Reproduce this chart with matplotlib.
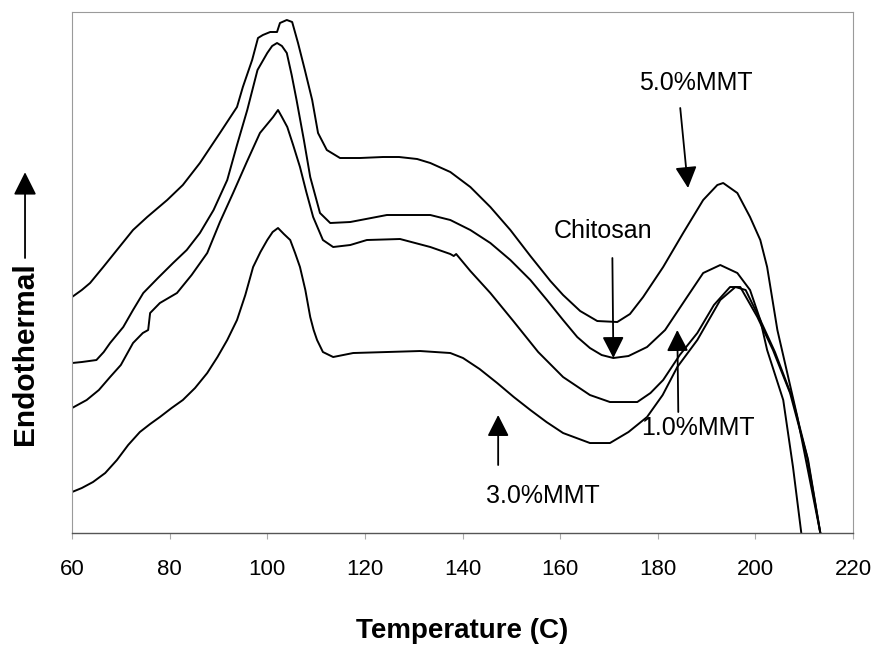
import matplotlib
matplotlib.use("Agg")
import matplotlib as mpl
import matplotlib.pyplot as plt
from matplotlib.patches import FancyArrowPatch

mpl.rcParams.update({
    "font.family": "Liberation Sans", "font.size": 16,
})

# DSC traces (temperature in C, heat flow in arbitrary
# units, endothermic up)
T_MMT5 = [60, 62, 63.7, 66.4, 69.2, 72.5, 75.4, 79.5, 82.7, 86.2, 90.3, 93.8,
          95, 96.9, 98.1, 99.1, 100.6, 102, 102.6, 104, 105.1, 106.3, 107.7,
          109.2, 110.4, 112.2, 114.9, 119, 123.7, 127, 130.7, 133.4, 137.5,
          141.6, 145.7, 149.8, 153.9, 158, 160.6, 164.1, 167.6, 171.7, 174.3,
          177, 181.1, 185.2, 189.3, 192.2, 193.4, 196.3, 198.9, 201, 202.4,
          204.5, 208.6, 213.3]
Y_MMT5 = [236, 243, 250, 266, 283, 303, 316, 333, 348, 370, 400, 426,
          446, 473, 495, 498, 501, 501, 510, 513, 511, 490, 463,
          433, 400, 383, 375, 375, 376, 376, 374, 370, 361,
          346, 326, 303, 277, 252, 238, 222, 212, 211, 219,
          236, 266, 300, 333, 348, 350, 340, 316, 293, 266,
          203, 116, 0]

T_CHI = [60, 62, 65, 66.5, 67.8, 70.5, 72.5, 74.6, 77.6, 80.7, 83.5, 86.2,
         89, 91.8, 93.8, 95.9, 98, 100, 101, 102, 103, 104, 105, 106, 107.5,
         108.8, 110.8, 112.9, 117, 124.5, 128, 133.4, 137.5, 141.6, 145.7,
         149.8, 153.9, 157.3, 160.6, 163.5, 166.1, 168.5, 170.9, 174, 177.8,
         181.5, 186, 189.3, 192.8, 196.3, 198.9, 201, 202.4, 205.7, 207.7,
         209.4]
Y_CHI = [170, 171, 173, 181, 190, 206, 223, 240, 255, 270, 283, 300,
         323, 353, 388, 423, 463, 480, 487, 490, 487, 480, 458, 433, 393,
         356, 320, 310, 311, 318, 318, 318, 313, 303, 290,
         273, 253, 233, 213, 196, 185, 178, 175, 177, 186,
         203, 236, 260, 268, 260, 243, 213, 183, 133, 66,
         0]

T_MMT1 = [60, 63, 65.5, 67.8, 70, 72.5, 74.5, 75.6, 76.0, 78, 81.5, 84.5,
          87.7, 90.3, 93, 95.8, 98.5, 101.2, 102.2, 103, 104.1, 105.3, 106.7,
          108, 109.4, 111.4, 113.5, 117, 120.4, 127.2, 133.4, 137.5, 138.2,
          138.7, 141.6, 145.7, 150.4, 155.5, 160.6, 166.1, 170.2, 175.8, 178.5,
          181.1, 184.5, 188.1, 191.5, 194.8, 196.9, 200.4, 203.6, 207.1, 210.6,
          213.3]
Y_MMT1 = [125, 133, 143, 156, 168, 190, 200, 203, 220, 230, 240, 258,
          280, 311, 340, 371, 400, 416, 423, 416, 406, 388, 366,
          341, 316, 293, 286, 288, 293, 294, 286, 279, 277,
          279, 262, 240, 212, 181, 156, 138, 131, 131, 140,
          153, 178, 200, 228, 246, 246, 216, 183, 140, 76,
          0]

T_MMT3 = [60, 62, 64.3, 66.8, 69.2, 71.5, 73.9, 76, 78, 80.4, 82.7, 85.2,
          87.7, 89.8, 91.8, 93.8, 95.5, 97.1, 98.6, 100, 101.1, 102.2, 103.4,
          104.7, 105.7, 106.7, 107.8, 108.8, 109.5, 110.2, 111.4, 113.5, 117.6,
          124.5, 131.3, 137.5, 140.1, 143.5, 147.1, 150.5, 153.9, 157.2, 160.6,
          166.1, 170.2, 174, 177.8, 181, 184, 188.1, 192.8, 195.9, 198, 201,
          204, 207.5, 210.8, 213.3]
Y_MMT3 = [41, 45, 51, 60, 73, 88, 101, 109, 116, 125, 133, 145,
          160, 176, 193, 213, 238, 266, 281, 293, 301, 305, 299,
          293, 280, 266, 243, 216, 203, 193, 181, 176, 180,
          181, 182, 180, 175, 164, 150, 136, 123, 111, 100,
          90, 90, 101, 116, 138, 166, 193, 233, 246, 243, 213,
          181, 136, 73, 0]

SERIES = [(T_MMT5, Y_MMT5), (T_CHI, Y_CHI), (T_MMT1, Y_MMT1), (T_MMT3, Y_MMT3)]

# (label, text xy, arrow tail, arrow tip) in data units
LABELS = [
    ("5.0%MMT", (187.7, 450), (184.6, 425), (186.2, 345)),
    ("Chitosan", (168.8, 302), (170.7, 275), (170.9, 175)),
    ("1.0%MMT", (188.3, 105), (184.2, 121), (184.0, 203)),
    ("3.0%MMT", (156.5, 37), (147.3, 68), (147.3, 118)),
]

fig = plt.figure(figsize=(8.75, 6.45), dpi=100)
ax = fig.add_axes([0.0823, 0.1736, 0.8926, 0.8078])

for t, y in SERIES:
    ax.plot(t, y, color="black", lw=1.4, solid_joinstyle="round")

arrow_style = "-|>,head_length=0.65,head_width=0.33"
for lab, txy, tail, tip in LABELS:
    ax.text(*txy, lab, ha="center", va="center", fontsize=18)
    ax.annotate("", xy=tip, xytext=tail,
                arrowprops=dict(arrowstyle=arrow_style, mutation_scale=20,
                                color="black", lw=1.3, shrinkA=0, shrinkB=0))

ax.set_xlim(60, 220)
ax.set_ylim(0, 521)
ax.set_xticks(range(60, 221, 20))
ax.set_yticks([])
ax.tick_params(axis="x", length=4, width=0.8, color="#aaaaaa", pad=15,
               labelsize=16)
for side in ("top", "right", "left"):
    ax.spines[side].set_color("#9a9a9a")
    ax.spines[side].set_linewidth(0.8)
ax.spines["bottom"].set_color("#555555")
ax.spines["bottom"].set_linewidth(1.0)

fig.text(0.528, 0.0217, "Temperature (C)", ha="center", va="center",
         fontsize=20, weight="bold")
fig.text(0.0286, 0.452, "Endothermal", ha="center", va="center",
         fontsize=21.5, weight="bold", rotation=90)
fig.add_artist(FancyArrowPatch((0.0286, 0.600), (0.0286, 0.733),
                               transform=fig.transFigure,
                               arrowstyle="-|>,head_length=0.7,head_width=0.35",
                               mutation_scale=20, color="black", lw=1.3,
                               shrinkA=0, shrinkB=0))

fig.savefig("out.png", dpi=100)
